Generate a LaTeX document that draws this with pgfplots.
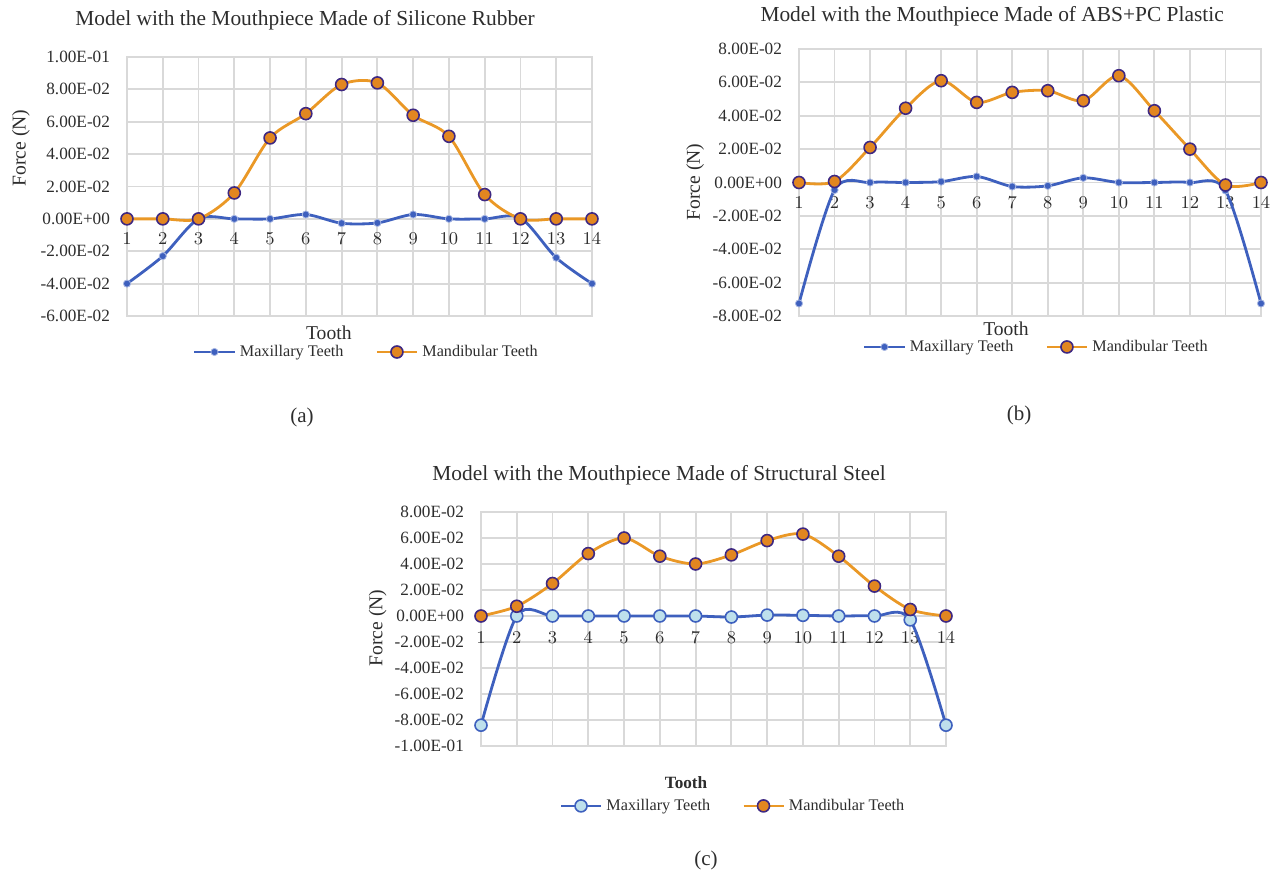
\documentclass[border=0pt]{standalone}
\usepackage{pgfplots}
\pgfplotsset{compat=1.18}
\usepackage{fontspec}
\setmainfont{Liberation Serif}

\definecolor{maxblue}{RGB}{62,96,190}
\definecolor{maxlight}{RGB}{190,224,236}
\definecolor{mandline}{RGB}{234,152,38}
\definecolor{mandfill}{RGB}{226,134,32}
\definecolor{mandedge}{RGB}{62,40,130}
\definecolor{gridgray}{RGB}{217,217,217}
\definecolor{txt}{RGB}{45,45,45}

\pgfplotsset{
  toothchart/.style={
    scale only axis,
    clip=false,
    xmin=1, xmax=14,
    xtick={1,...,14},
    scaled y ticks=false,
    grid=major,
    major grid style={draw=gridgray, line width=0.9pt},
    axis line style={draw=gridgray, line width=0.9pt},
    major tick length=0pt,
    tick label style={font=\fontsize{8.6}{10}\selectfont, text=txt},
    yticklabel style={xshift=-5pt},
    label style={font=\fontsize{9.8}{11}\selectfont, text=txt},
    every axis title shift=0pt,
    title style={font=\fontsize{10.7}{12}\selectfont, text=txt},
    legend style={draw=none, fill=none, font=\fontsize{8.1}{9.5}\selectfont,
      text=txt, anchor=center, legend columns=2,
      /tikz/every even column/.append style={column sep=14pt}},
    legend cell align=left,
    legend image code/.code={\draw[mark repeat=2,mark phase=2,##1]
      plot coordinates {(0pt,0pt)(10pt,0pt)(20pt,0pt)};},
    xlabel={Tooth}, ylabel={Force (N)},
  },
  maxline/.style={draw=maxblue, line width=1.4pt, smooth, mark=*, mark size=1.8pt,
    mark options={fill=maxblue, draw=maxblue!45!white, line width=0.4pt}},
  maxopen/.style={draw=maxblue, line width=1.4pt, smooth, mark=*, mark size=3pt,
    mark options={fill=maxlight, draw=maxblue, line width=0.8pt}},
  mandline/.style={draw=mandline, line width=1.4pt, smooth, mark=*, mark size=3pt,
    mark options={fill=mandfill, draw=mandedge, line width=0.8pt}},
}

\begin{document}
\begin{tikzpicture}
\useasboundingbox (0,0) rectangle (638pt,436.5pt);

% (a) silicone rubber
\begin{axis}[toothchart,
    at={(63.5pt,278.5pt)}, anchor=south west,
    width=232.5pt, height=129.5pt,
    ymin=-0.06, ymax=0.1,
    ytick={-0.06,-0.04,-0.02,0,0.02,0.04,0.06,0.08,0.1},
    yticklabels={-6.00E-02,-4.00E-02,-2.00E-02,0.00E+00,2.00E-02,4.00E-02,6.00E-02,8.00E-02,1.00E-01},
    xticklabel style={anchor=center, yshift=38.5pt},
    title={Model with the Mouthpiece Made of Silicone Rubber},
    title style={at={(axis description cs:0.383,1.143)}, anchor=center},
    xlabel style={at={(axis description cs:0.434,-0.066)}, anchor=center},
    ylabel style={at={(axis description cs:-0.228,0.649)}, anchor=center},
    legend style={at={(0.517,-0.139)}},
]
\addplot[maxline] coordinates {(1,-0.040)(2,-0.023)(3,0)(4,0)(5,0)(6,0.0027)(7,-0.0027)
  (8,-0.0025)(9,0.0027)(10,0)(11,0)(12,0.0005)(13,-0.024)(14,-0.040)};
\addplot[mandline] coordinates {(1,0)(2,0)(3,0)(4,0.016)(5,0.050)(6,0.065)(7,0.083)
  (8,0.084)(9,0.064)(10,0.051)(11,0.015)(12,0)(13,0)(14,0)};
\legend{Maxillary Teeth, Mandibular Teeth}
\end{axis}

% (b) ABS+PC plastic
\begin{axis}[toothchart,
    at={(399.5pt,278.5pt)}, anchor=south west,
    width=231pt, height=133.5pt,
    ymin=-0.08, ymax=0.08,
    ytick={-0.08,-0.06,-0.04,-0.02,0,0.02,0.04,0.06,0.08},
    yticklabels={-8.00E-02,-6.00E-02,-4.00E-02,-2.00E-02,0.00E+00,2.00E-02,4.00E-02,6.00E-02,8.00E-02},
    xticklabel style={anchor=center, yshift=56.5pt},
    title={Model with the Mouthpiece Made of ABS+PC Plastic},
    title style={at={(axis description cs:0.418,1.124)}, anchor=center},
    xlabel style={at={(axis description cs:0.448,-0.049)}, anchor=center},
    ylabel style={at={(axis description cs:-0.225,0.502)}, anchor=center},
    legend style={at={(0.516,-0.116)}},
]
\addplot[maxline] coordinates {(1,-0.0725)(2,-0.0045)(3,0)(4,0)(5,0.0005)(6,0.0036)(7,-0.0024)
  (8,-0.002)(9,0.0028)(10,0)(11,0)(12,0)(13,-0.0048)(14,-0.0725)};
\addplot[mandline] coordinates {(1,0)(2,0.0006)(3,0.021)(4,0.0445)(5,0.061)(6,0.048)(7,0.054)
  (8,0.055)(9,0.049)(10,0.064)(11,0.043)(12,0.020)(13,-0.0015)(14,0)};
\legend{Maxillary Teeth, Mandibular Teeth}
\end{axis}

% (c) structural steel
\begin{axis}[toothchart,
    at={(240.5pt,63.5pt)}, anchor=south west,
    width=232.5pt, height=117pt,
    ymin=-0.1, ymax=0.08,
    ytick={-0.1,-0.08,-0.06,-0.04,-0.02,0,0.02,0.04,0.06,0.08},
    yticklabels={-1.00E-01,-8.00E-02,-6.00E-02,-4.00E-02,-2.00E-02,0.00E+00,2.00E-02,4.00E-02,6.00E-02,8.00E-02},
    xticklabel style={anchor=center, yshift=54pt},
    title={Model with the Mouthpiece Made of Structural Steel},
    title style={at={(axis description cs:0.383,1.158)}, anchor=center},
    xlabel style={at={(axis description cs:0.441,-0.158)}, anchor=center,
      font=\fontsize{8.6}{10}\selectfont\bfseries},
    ylabel style={at={(axis description cs:-0.222,0.504)}, anchor=center},
    legend style={at={(0.544,-0.256)}},
]
\addplot[maxopen] coordinates {(1,-0.084)(2,0)(3,0)(4,0)(5,0)(6,0)(7,0)
  (8,-0.0008)(9,0.0007)(10,0.0005)(11,0)(12,0)(13,-0.003)(14,-0.084)};
\addplot[mandline] coordinates {(1,0)(2,0.0075)(3,0.025)(4,0.048)(5,0.060)(6,0.046)(7,0.040)
  (8,0.047)(9,0.058)(10,0.063)(11,0.046)(12,0.023)(13,0.005)(14,0)};
\legend{Maxillary Teeth, Mandibular Teeth}
\end{axis}

\node[font=\fontsize{10.5}{12}\selectfont, text=txt] at (151pt,228pt) {(a)};
\node[font=\fontsize{10.5}{12}\selectfont, text=txt] at (509.5pt,229pt) {(b)};
\node[font=\fontsize{10.5}{12}\selectfont, text=txt] at (353pt,6.5pt) {(c)};
\end{tikzpicture}
\end{document}
